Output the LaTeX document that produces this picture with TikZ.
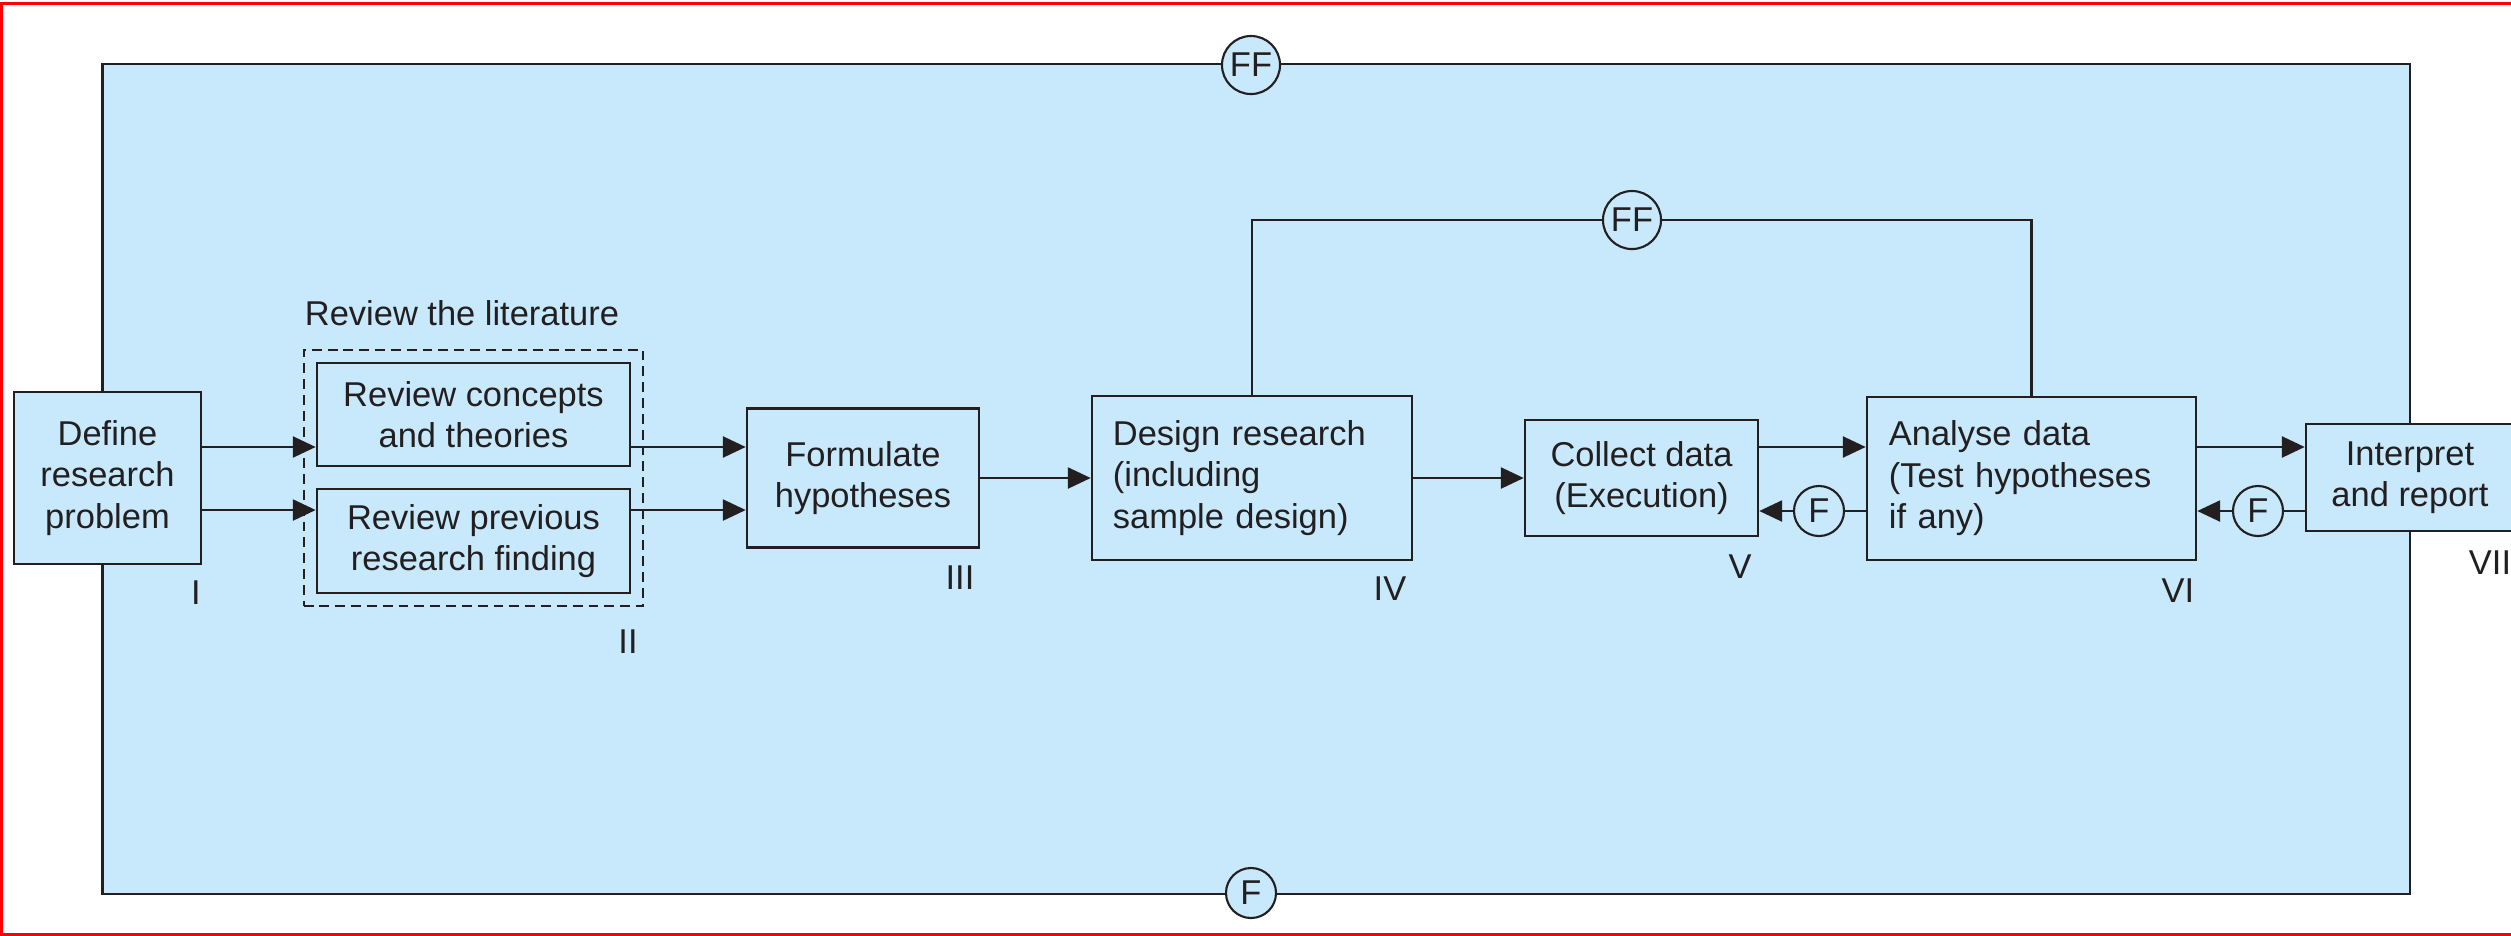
\documentclass[tikz,border=0pt]{standalone}
\usepackage{fontspec}
\setmainfont{Liberation Sans}
\usepackage{tikz}
\usetikzlibrary{arrows.meta, positioning, fit}
\definecolor{panelblue}{HTML}{C7E9FB}
\definecolor{inkgray}{HTML}{231F20}
\definecolor{framered}{HTML}{FF0000}

\tikzset{
  stagebox/.style={draw=inkgray, fill=panelblue, line width=0.7pt, inner sep=0pt, align=center, text=inkgray, font=\fontsize{9.8}{11.8}\selectfont},
  stagetag/.style={text=inkgray, font=\fontsize{9.8}{11.8}\selectfont},
  feedback/.style={circle, draw=inkgray, fill=panelblue, line width=0.6pt, inner sep=0pt, minimum size=0.5cm, text=inkgray, font=\fontsize{9.8}{11.8}\selectfont},
  flow/.style={draw=inkgray, line width=0.6pt, -{Triangle[length=6.5pt,width=6pt]}},
  link/.style={draw=inkgray, line width=0.6pt}
}

\begin{document}
\begin{tikzpicture}[x=0.01cm, y=-0.01cm]
  \useasboundingbox (0,0) rectangle (2511,935);

  % Outer frame
  \draw[framered, line width=0.85pt] (2511,3) -- (1.5,3) -- (1.5,934) -- (2511,934);
  \fill[framered] (1068,246) circle[radius=0.04cm];

  % Background panel
  \fill[panelblue] (102.5,64) rectangle (2410,894);
  \draw[inkgray, line width=0.6pt] (102.5,64) rectangle (2410,894);
  \node[feedback, minimum size=0.58cm] (panelff) at (1251,65) {FF};
  \node[feedback] (panelf) at (1251,893) {F};

  % Stages
  \node[stagebox, minimum width=1.87cm, minimum height=1.72cm] (define) at (107.5,478) {Define\\research\\problem};
  \node[stagebox, minimum width=3.13cm, minimum height=1.03cm] (concepts) at (473.5,414.5) {Review concepts\\and theories};
  \node[stagebox, minimum width=3.13cm, minimum height=1.04cm] (previous) at (473.5,541) {Review previous\\research finding};
  \node[draw=inkgray, dashed, dash pattern=on 2.8pt off 1.7pt, line width=0.6pt, inner sep=0.12cm, fit=(concepts)(previous)] (litgroup) {};
  \node[stagetag] (littitle) at (462,313) {Review the literature};
  \node[stagebox, minimum width=2.32cm, minimum height=1.39cm] (formulate) at (863,478) {Formulate\\hypotheses};
  \node[stagebox, align=left, text width=2.78cm, minimum width=3.2cm, minimum height=1.64cm] (design) at (1252,478) {Design research\\(including\\sample design)};
  \node[stagebox, minimum width=2.33cm, minimum height=1.16cm] (collect) at (1641.5,478) {Collect data\\(Execution)};
  \node[stagebox, align=left, text width=2.85cm, minimum width=3.29cm, minimum height=1.63cm] (analyse) at (2031.5,478.5) {Analyse data\\(Test hypotheses\\if any)};
  \node[stagebox, minimum width=2.08cm, minimum height=1.07cm] (interpret) at (2410,477.5) {Interpret\\and report};

  % Stage numbers
  \node[stagetag] (tagone) at (196,593) {I};
  \node[stagetag] (tagtwo) at (628,642) {II};
  \node[stagetag] (tagthree) at (960,578) {III};
  \node[stagetag] (tagfour) at (1390,589) {IV};
  \node[stagetag] (tagfive) at (1740,567) {V};
  \node[stagetag] (tagsix) at (2178,591) {VI};
  \node[stagetag] (tagseven) at (2490,563) {VII};

  % Forward flow
  \coordinate (upperlane) at ([yshift=0.31cm]define.east);
  \coordinate (lowerlane) at ([yshift=-0.32cm]define.east);
  \draw[flow] (upperlane) -- (upperlane -| concepts.west);
  \draw[flow] (lowerlane) -- (lowerlane -| previous.west);
  \draw[flow] (upperlane -| concepts.east) -- (upperlane -| formulate.west);
  \draw[flow] (lowerlane -| previous.east) -- (lowerlane -| formulate.west);
  \draw[flow] (formulate.east) -- (formulate.east -| design.west);
  \draw[flow] (design.east) -- (design.east -| collect.west);
  \coordinate (datalane) at ([yshift=0.31cm]collect.east);
  \draw[flow] (datalane) -- (datalane -| analyse.west);
  \draw[flow] (datalane -| analyse.east) -- (datalane -| interpret.west);

  % Feedback loops
  \node[feedback] (fcollect) at (1819,511) {F};
  \node[feedback] (fanalyse) at (2258,511) {F};
  \draw[link] (fcollect -| analyse.west) -- (fcollect);
  \draw[flow] (fcollect) -- (fcollect -| collect.east);
  \draw[link] (fanalyse -| interpret.west) -- (fanalyse);
  \draw[flow] (fanalyse) -- (fanalyse -| analyse.east);

  \node[feedback, minimum size=0.58cm] (ffloop) at (1632,220) {FF};
  \draw[link] (design.north) |- (ffloop);
  \draw[link] (ffloop) -| (analyse.north);
\end{tikzpicture}
\end{document}
